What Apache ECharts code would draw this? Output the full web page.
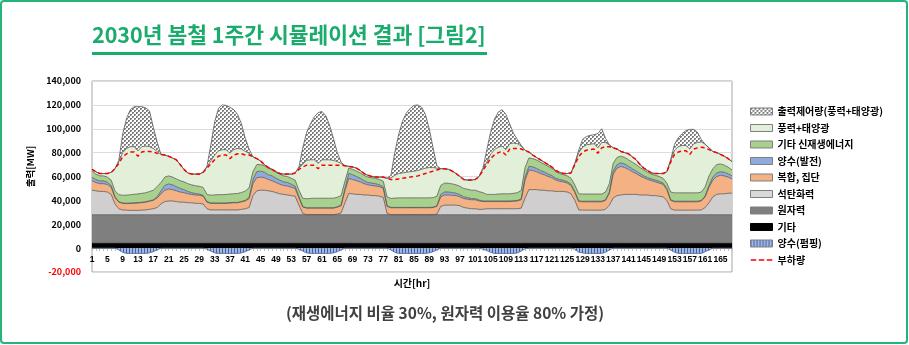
<!DOCTYPE html>
<html><head><meta charset="utf-8">
<script src="https://cdn.jsdelivr.net/npm/echarts/dist/echarts.min.js"></script>
<style>html,body{margin:0;padding:0;background:#fff}#c{width:909px;height:345px}</style>
</head><body><div id="c"></div>
<script>
const hours = [1,2,3,4,5,6,7,8,9,10,11,12,13,14,15,16,17,18,19,20,21,22,23,24,
25,26,27,28,29,30,31,32,33,34,35,36,37,38,39,40,41,42,43,44,45,46,47,48,
49,50,51,52,53,54,55,56,57,58,59,60,61,62,63,64,65,66,67,68,69,70,71,72,
73,74,75,76,77,78,79,80,81,82,83,84,85,86,87,88,89,90,91,92,93,94,95,96,
97,98,99,100,101,102,103,104,105,106,107,108,109,110,111,112,113,114,115,116,117,118,119,120,
121,122,123,124,125,126,127,128,129,130,131,132,133,134,135,136,137,138,139,140,141,142,143,144,
145,146,147,148,149,150,151,152,153,154,155,156,157,158,159,160,161,162,163,164,165,166,167,168];

const yTicks = [-20000,0,20000,40000,60000,80000,100000,120000,140000];

const otherGen = [4000,4000,4000,4000,4000,4000,4000,4000,4000,4000,4000,4000,
4000,4000,4000,4000,4000,4000,4000,4000,4000,4000,4000,4000,
4000,4000,4000,4000,4000,4000,4000,4000,4000,4000,4000,4000,
4000,4000,4000,4000,4000,4000,4000,4000,4000,4000,4000,4000,
4000,4000,4000,4000,4000,4000,4000,4000,4000,4000,4000,4000,
4000,4000,4000,4000,4000,4000,4000,4000,4000,4000,4000,4000,
4000,4000,4000,4000,4000,4000,4000,4000,4000,4000,4000,4000,
4000,4000,4000,4000,4000,4000,4000,4000,4000,4000,4000,4000,
4000,4000,4000,4000,4000,4000,4000,4000,4000,4000,4000,4000,
4000,4000,4000,4000,4000,4000,4000,4000,4000,4000,4000,4000,
4000,4000,4000,4000,4000,4000,4000,4000,4000,4000,4000,4000,
4000,4000,4000,4000,4000,4000,4000,4000,4000,4000,4000,4000,
4000,4000,4000,4000,4000,4000,4000,4000,4000,4000,4000,4000,
4000,4000,4000,4000,4000,4000,4000,4000,4000,4000,4000,4000];

const nuclear = [24000,24000,24000,24000,24000,24000,24000,24000,24000,24000,24000,24000,
24000,24000,24000,24000,24000,24000,24000,24000,24000,24000,24000,24000,
24000,24000,24000,24000,24000,24000,24000,24000,24000,24000,24000,24000,
24000,24000,24000,24000,24000,24000,24000,24000,24000,24000,24000,24000,
24000,24000,24000,24000,24000,24000,24000,24000,24000,24000,24000,24000,
24000,24000,24000,24000,24000,24000,24000,24000,24000,24000,24000,24000,
24000,24000,24000,24000,24000,24000,24000,24000,24000,24000,24000,24000,
24000,24000,24000,24000,24000,24000,24000,24000,24000,24000,24000,24000,
24000,24000,24000,24000,24000,24000,24000,24000,24000,24000,24000,24000,
24000,24000,24000,24000,24000,24000,24000,24000,24000,24000,24000,24000,
24000,24000,24000,24000,24000,24000,24000,24000,24000,24000,24000,24000,
24000,24000,24000,24000,24000,24000,24000,24000,24000,24000,24000,24000,
24000,24000,24000,24000,24000,24000,24000,24000,24000,24000,24000,24000,
24000,24000,24000,24000,24000,24000,24000,24000,24000,24000,24000,24000];

const coal = [20600,20000,19500,19500,19000,17000,9000,5000,4000,3800,3600,3600,
3600,3800,4000,4500,5000,6000,9000,11000,11500,11500,11000,10500,
10500,10000,10000,9500,9500,9000,5000,4000,4000,4000,4000,4000,
4000,4000,4000,4500,5000,6000,16000,20000,20500,20500,20000,19500,
18500,17500,17000,16500,16000,15500,8000,1000,0,0,0,0,
0,0,0,0,500,1500,10000,17800,17500,17000,17000,16500,
16500,16000,16000,15500,14500,1000,0,0,0,0,0,0,
0,0,0,0,0,0,500,7000,8000,8000,8000,8000,
7500,6000,5500,5000,5000,4500,4500,5000,5000,5000,5000,5000,
5000,5000,5000,5000,5500,14000,21000,21000,21000,20500,20500,20000,
20000,19500,19500,19500,19000,17500,12000,4000,3800,3800,3800,3800,
3800,3800,4500,8000,14000,16000,16500,17000,17000,17000,17000,16500,
16500,16500,16000,16000,15500,15000,12000,5000,3800,3800,3800,3800,
3800,3800,3800,4000,6000,10000,15000,17000,17500,17500,18000,18000];

const combined = [7800,7000,6500,6500,6300,6000,5500,5500,5500,5500,5800,6000,
6200,6300,6500,6800,7000,8000,8500,9500,10000,9500,9000,8500,
8000,7500,7000,7000,6800,6500,5500,5500,5500,5500,5500,5500,
5800,6000,6000,6300,6500,7500,10000,11000,11000,10500,9500,9000,
8500,8000,7500,7500,7000,6500,6000,5500,5500,5500,5500,5500,
5500,5500,5500,5500,5800,6000,10000,12600,12000,11500,10500,9500,
8500,8500,8000,8000,7500,6000,5800,5800,5800,5800,5800,5800,
5800,5800,5800,5800,5800,6000,6500,8000,8500,8500,8300,8000,
7500,7500,7500,7500,7500,7000,6500,6000,6000,6000,6000,6000,
6000,6000,6200,6500,7000,15000,16500,16000,15000,14000,13000,12000,
11000,9500,8500,8000,7500,7000,6500,7000,7000,7000,7000,7000,
7000,7000,7500,10000,20000,23000,24000,22500,21000,19000,17500,16000,
14500,13000,12500,11500,11000,10500,9000,7000,7000,7000,7000,7000,
7000,7000,7000,7500,9000,13000,14000,15000,15500,15000,13500,12000];

const pumpGen = [2800,2500,2300,2300,2000,1500,500,300,300,300,300,300,
300,300,300,300,500,1000,2500,4000,4300,4000,3500,3000,
2500,2000,1500,1200,1000,800,500,300,300,300,300,300,
300,300,300,300,500,1000,3500,5000,5000,4500,4000,4000,
3500,3500,3000,3000,2500,2000,1000,300,300,300,300,300,
300,300,300,300,300,500,2000,4200,4000,3500,3000,2500,
2000,2000,2000,1500,1500,500,300,300,300,300,300,300,
300,300,300,300,300,300,500,2000,2500,2500,2300,2000,
1800,1500,1300,1000,1000,800,500,500,500,500,500,500,
500,500,500,500,800,2500,3000,3000,2800,2500,2300,2000,
1800,1500,1500,1300,1200,1000,800,500,500,500,500,500,
500,500,500,1000,2500,3000,3000,3000,2500,2500,2000,2000,
1500,1500,1500,1500,1500,1000,1000,500,500,500,500,500,
500,500,500,500,800,1500,2500,3000,3000,3000,2800,2500];

const otherRenew = [5600,4500,4300,4200,4200,4500,5000,6000,6500,6800,7000,7200,
7300,7500,7600,7800,8000,8500,7000,7000,6700,6500,6500,6500,
6500,6500,6500,6500,6500,6500,6000,6500,6800,7000,7000,7200,
7200,7300,7500,7500,7800,8000,6500,6000,5500,5500,5500,5000,
5000,5000,5000,5000,5000,5000,5500,7000,7500,7800,8000,8000,
8000,8000,8000,8000,8000,8000,6000,4500,4500,4500,4500,4500,
4500,4500,4500,4500,4500,7500,7500,7800,8000,8000,8000,8000,
8000,8000,8000,8000,8000,8000,8000,7500,7500,7300,7200,7000,
7000,7000,7000,7000,7000,7000,7000,5500,5500,5500,5800,6000,
6000,6000,6200,6500,7000,8000,7000,7000,7000,7000,6500,6500,
6000,5500,5000,4800,4800,5000,5500,6000,6000,6000,6000,6000,
6000,6000,6500,7000,6500,6000,5500,5500,5500,5500,5500,5000,
5000,4500,4000,4000,4000,4000,4500,6500,7000,7000,7000,7000,
7000,7000,7000,7000,7500,8000,7000,7000,6500,6000,5500,5000];

const windSolar = [1200,2000,1900,2000,3000,6500,18500,27700,35700,39100,40300,39900,
36100,39100,39100,37600,35000,29500,23500,18500,16500,16000,16000,13500,
10500,9000,9000,9800,10200,12700,23000,28700,33400,36700,37700,37500,
34200,36900,37700,36400,33200,29000,12500,5000,3000,1000,500,500,
500,500,1500,2000,3500,6000,18500,28700,32200,32400,32200,29200,
32200,32200,32200,31700,29900,27000,13000,1400,2000,2500,2000,1500,
1500,1000,1000,2000,3500,15500,17400,19100,20400,20900,21400,21900,
22400,22900,23900,24900,25400,25200,23500,14000,12000,11700,10700,9500,
8200,7500,7700,8500,9000,12700,19500,27000,33500,37500,39200,40000,
37000,42000,42100,41000,37200,14500,5000,3000,2200,2000,1700,1500,
1200,1000,1000,900,2000,4500,18200,34500,39200,41200,41700,42200,
38700,43200,41500,32500,13000,7000,4000,4000,5000,4500,4000,2500,
1500,1500,1000,1500,2500,4000,9500,26500,35700,38700,39700,39700,
36700,41200,42200,42000,35700,23500,14500,10000,8000,7500,7200,7000];

const curtailed = [0,0,0,0,0,0,0,1000,15500,25100,31000,33500,
37000,33500,32000,30000,17800,8000,0,0,0,0,0,0,
0,0,0,0,0,0,500,13300,27800,35500,37500,37000,
38500,33500,28500,21000,11000,3500,0,0,0,0,0,0,
0,0,0,0,0,0,1000,13500,23500,30000,36000,42500,
40500,37000,29000,18500,7500,1000,0,0,0,0,0,0,
0,0,0,0,0,0,2000,19000,32500,43000,49500,53000,
55000,55000,52000,45000,32500,16500,2000,0,0,0,0,0,
0,0,0,0,0,0,1000,10000,18500,25500,29500,30500,
29500,16500,8000,3500,500,0,0,0,0,0,0,0,
0,0,0,0,0,0,0,2000,6500,7000,7500,7500,
12000,11500,3500,0,0,0,0,0,0,0,0,0,
0,0,0,0,0,0,0,500,5000,7500,10000,12500,
16500,12000,8500,2000,0,0,0,0,0,0,0,0];

const pumping = [0,0,0,0,0,0,0,-1500,-3500,-4500,-4500,-4500,
-4500,-4500,-4500,-4000,-3000,-1500,0,0,0,0,0,0,
0,0,0,0,0,0,-1000,-2500,-4000,-4500,-4500,-4500,
-4500,-4500,-4500,-4000,-3000,-1500,0,0,0,0,0,0,
0,0,0,0,0,0,-1000,-2500,-4000,-4500,-4500,-4500,
-4500,-4500,-4500,-4000,-3000,-1500,0,0,0,0,0,0,
0,0,0,0,0,0,-1500,-3500,-4500,-4500,-4500,-4500,
-4500,-4500,-4500,-4500,-4000,-3000,-1500,0,0,0,0,0,
0,0,0,0,0,0,-1000,-2000,-3500,-4500,-4500,-4500,
-4500,-4500,-4500,-4000,-2500,-500,0,0,0,0,0,0,
0,0,0,0,0,0,-1000,-3500,-4000,-4500,-4500,-4500,
-4500,-4500,-3500,-1500,0,0,0,0,0,0,0,0,
0,0,0,0,0,0,0,-1500,-3500,-4500,-4500,-4500,
-4500,-4500,-4500,-4500,-3000,-1500,0,0,0,0,0,0];

const load = [66000,64000,62500,62500,62500,63500,66500,71000,76500,79000,80500,80500,
77000,80500,81000,81000,80500,79500,78500,78000,77000,75500,74000,70000,
66000,63000,62000,62000,62000,63500,67000,70500,74000,77000,78000,78000,
75000,78000,79000,79000,78000,78000,76500,75000,73000,70000,67500,66000,
64000,62500,62000,62000,62000,63000,66000,68000,69500,69500,69500,66500,
69500,69500,69500,69500,69500,69500,69000,68500,68000,67000,65000,62500,
61000,60000,59500,59500,59500,58500,57500,57500,58000,58500,59000,59500,
60000,60500,61500,62500,63500,64500,65500,66500,66500,66000,64500,62500,
60000,57500,57000,57000,57500,60000,65000,70000,75000,78000,80000,81000,
78000,83000,83500,83500,83000,81500,80500,78000,76000,74000,72000,70000,
68000,65000,63500,62500,62500,63000,70000,76500,80500,82000,82500,83000,
79500,84000,85000,85000,84000,83000,81000,80000,79000,76500,74000,70000,
67000,65000,63000,62500,62500,62500,64000,72000,78500,80500,81500,81500,
78500,83000,84000,84500,84000,82500,81000,80000,78500,77000,75000,72500];

const FONT = '"Noto Sans CJK KR", "Noto Sans", sans-serif';
const NUMFONT = '"Liberation Sans", Arial, sans-serif';
const GREEN = '#1aab6d';

function hatchCanvas() {
  const c = document.createElement('canvas'); c.width = 4; c.height = 4;
  const g = c.getContext('2d');
  g.fillStyle = '#ffffff'; g.fillRect(0, 0, 4, 4);
  g.fillStyle = '#7a7a7a';
  g.fillRect(0, 0, 2, 2); g.fillRect(2, 2, 2, 2);
  g.fillStyle = '#b5b5b5';
  g.fillRect(1, 1, 1, 1); g.fillRect(3, 3, 1, 1);
  return c;
}
function stripeCanvas() {
  const c = document.createElement('canvas'); c.width = 3; c.height = 3;
  const g = c.getContext('2d');
  g.fillStyle = '#9fb6e2'; g.fillRect(0, 0, 3, 3);
  g.fillStyle = '#44629e'; g.fillRect(0, 0, 1, 3);
  return c;
}
const hatchPat = { image: hatchCanvas(), repeat: 'repeat' };
const stripePat = { image: stripeCanvas(), repeat: 'repeat' };

function area(name, data, fill, line) {
  return {
    name: name, type: 'line', stack: 'gen', data: data, symbol: 'none',
    color: fill,
    lineStyle: { color: line || '#5a5a5a', width: 0.8 },
    areaStyle: { color: fill, opacity: 1 },
    emphasis: { disabled: true }, silent: true
  };
}

const chart = echarts.init(document.getElementById('c'), null, { renderer: 'canvas' });
const legendBorder = '#7f7f7f';
const dashIcon = 'path://M0,0h0.01v0.01h-0.01zM0,6.99h0.01v0.01h-0.01zM0,2.7h5.5v1.6h-5.5zM8,2.7h5.5v1.6h-5.5zM16,2.7h5.5v1.6h-5.5z';
chart.setOption({
  animation: false,
  backgroundColor: '#ffffff',
  grid: { left: 92, right: 177, top: 81, bottom: 73, show: true, borderColor: '#a6a6a6', borderWidth: 1 },
  xAxis: {
    type: 'category', data: hours, boundaryGap: false, offset: -24,
    axisLine: { onZero: false, lineStyle: { color: '#bfbfbf' } },
    axisTick: { show: true, interval: 0, length: 3, lineStyle: { color: '#bfbfbf' } },
    axisLabel: { interval: (i) => i % 4 === 0, showMinLabel: true, showMaxLabel: true,
      fontSize: 8.5, fontWeight: 'bold', color: '#000', fontFamily: NUMFONT, margin: 7 },
    splitLine: { show: false }
  },
  yAxis: {
    type: 'value', min: yTicks[0], max: yTicks[yTicks.length - 1], interval: 20000,
    name: '출력[MW]', nameLocation: 'middle', nameRotate: 90, nameGap: 44,
    nameTextStyle: { fontSize: 9.5, fontWeight: 'bold', color: '#000', fontFamily: FONT, padding: [0, 0, 0, 20] },
    axisLine: { show: false }, axisTick: { show: false },
    splitLine: { lineStyle: { color: '#dcdcdc', width: 1 } },
    axisLabel: {
      fontSize: 9, fontWeight: 'bold', fontFamily: FONT, margin: 11,
      color: v => (Number(v) < 0 ? '#ff0000' : '#000000'),
      formatter: v => Number(v).toLocaleString('en-US')
    }
  },
  legend: {
    orient: 'vertical', left: 750, top: 106.5, padding: 0, itemWidth: 22, itemHeight: 7, itemGap: 6.5,
    selectedMode: false,
    textStyle: { fontSize: 10, fontWeight: 'bold', color: '#000', fontFamily: FONT },
    data: [
      { name: '출력제어량(풍력+태양광)', icon: 'rect', itemStyle: { color: hatchPat, borderColor: legendBorder, borderWidth: 1 } },
      { name: '풍력+태양광', icon: 'rect', itemStyle: { color: '#e2f0d9', borderColor: legendBorder, borderWidth: 1 } },
      { name: '기타 신재생에너지', icon: 'rect', itemStyle: { color: '#a9d18e', borderColor: legendBorder, borderWidth: 1 } },
      { name: '양수(발전)', icon: 'rect', itemStyle: { color: '#8faadc', borderColor: legendBorder, borderWidth: 1 } },
      { name: '복합, 집단', icon: 'rect', itemStyle: { color: '#f4b183', borderColor: legendBorder, borderWidth: 1 } },
      { name: '석탄화력', icon: 'rect', itemStyle: { color: '#d9d9d9', borderColor: legendBorder, borderWidth: 1 } },
      { name: '원자력', icon: 'rect', itemStyle: { color: '#7f7f7f', borderColor: legendBorder, borderWidth: 1 } },
      { name: '기타', icon: 'rect', itemStyle: { color: '#000000', borderColor: '#000', borderWidth: 1 } },
      { name: '양수(펌핑)', icon: 'rect', itemStyle: { color: stripePat, borderColor: legendBorder, borderWidth: 1 } },
      { name: '부하량', icon: dashIcon, itemStyle: { color: '#ff0000', borderWidth: 0 } }
    ]
  },
  series: [
    area('기타', otherGen, '#000000', '#000000'),
    area('원자력', nuclear, '#7f7f7f'),
    area('석탄화력', coal, '#d0cece'),
    area('복합, 집단', combined, '#f4b183'),
    area('양수(발전)', pumpGen, '#8faadc'),
    area('기타 신재생에너지', otherRenew, '#a9d18e'),
    area('풍력+태양광', windSolar, '#e2f0d9'),
    area('출력제어량(풍력+태양광)', curtailed, hatchPat),
    {
      name: '양수(펌핑)', type: 'line', data: pumping, symbol: 'none', color: '#6d88c0',
      lineStyle: { color: '#4f6592', width: 0.8 },
      areaStyle: { color: stripePat, opacity: 1 }, silent: true
    },
    {
      name: '부하량', type: 'line', data: load, symbol: 'none', color: '#ff0000', z: 5,
      lineStyle: { color: '#ff0000', width: 1.5, type: [4, 3] }, silent: true
    }
  ],
  graphic: [
    { type: 'rect', silent: true, shape: { x: 1, y: 1, width: 906, height: 342, r: 3 },
      style: { fill: 'none', stroke: '#22b478', lineWidth: 2 } },
    { type: 'text', silent: true, x: 92, y: 35,
      style: { text: '2030년 봄철 1주간 시뮬레이션 결과 [그림2]', font: 'bold 21.5px ' + FONT, fill: GREEN, verticalAlign: 'middle' } },
    { type: 'rect', silent: true, shape: { x: 92, y: 52, width: 395, height: 3 }, style: { fill: GREEN } },
    { type: 'text', silent: true, x: 445, y: 313,
      style: { text: '(재생에너지 비율 30%, 원자력 이용율 80% 가정)', font: 'bold 15.5px ' + FONT, fill: '#404040', align: 'center', verticalAlign: 'middle' } },
    { type: 'text', silent: true, x: 412, y: 283,
      style: { text: '시간[hr]', font: 'bold 10px ' + FONT, fill: '#000', align: 'center', verticalAlign: 'middle' } }
  ]
});
</script>
</body></html>
